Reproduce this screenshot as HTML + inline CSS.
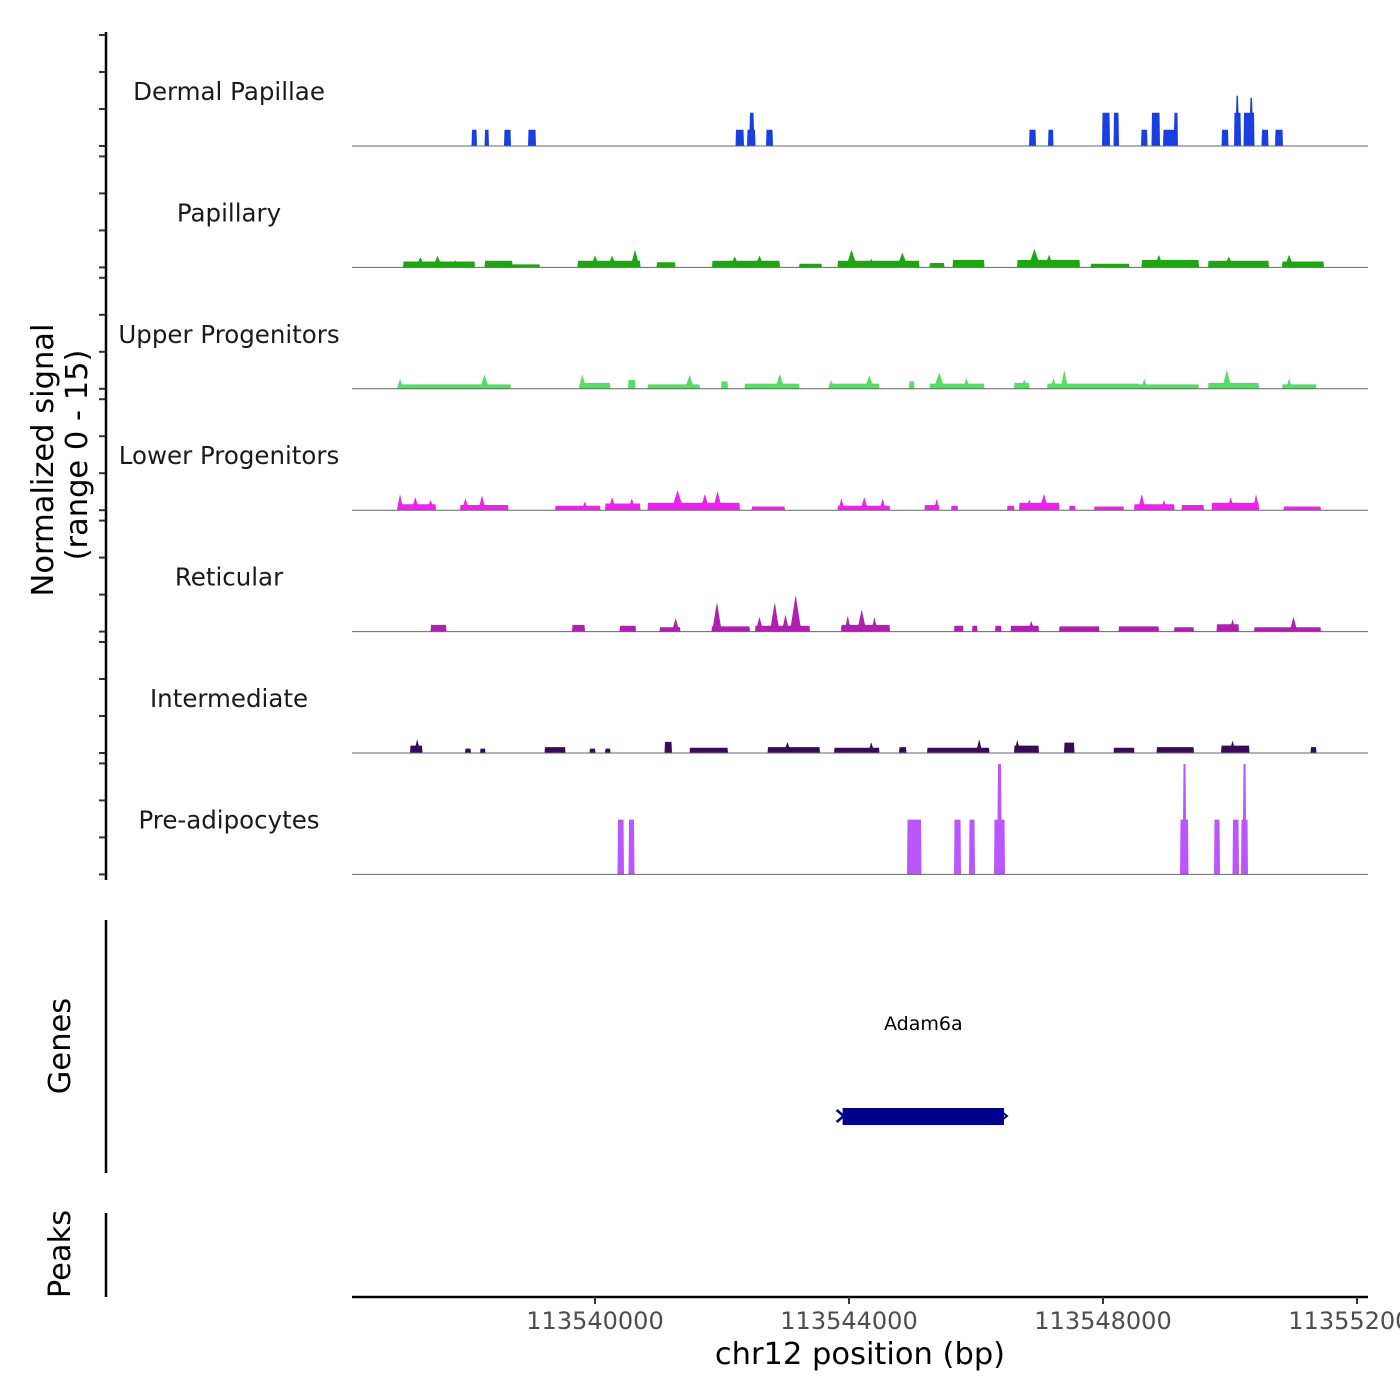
<!DOCTYPE html>
<html><head><meta charset="utf-8"><style>
html,body{margin:0;padding:0;background:#fff;width:1400px;height:1400px;overflow:hidden}
svg{display:block;font-family:"DejaVu Sans","Liberation Sans",sans-serif}
</style></head><body>
<svg id="chart" width="1400" height="1400" viewBox="0 0 1400 1400" xmlns="http://www.w3.org/2000/svg"></svg>
<script>
// ---- data (positions in kb, values in normalized signal units) ----
const trackNames = ["Dermal Papillae","Papillary","Upper Progenitors","Lower Progenitors","Reticular","Intermediate","Pre-adipocytes"];
const trackColors = ["#1a3fe0","#1aa80e","#55dd66","#ee22ee","#b01fb0","#3a0a5a","#bb55ff"];
const xTicks = [113540000,113544000,113548000,113552000];
const xTickLabels = ["113540000","113544000","113548000","113552000"];
const yRange = [0,15];
const geneName = "Adam6a";
const geneStart = 113543900;
const geneEnd = 113546440;

// flat regions [startKb, endKb, value]
const dpRegions = [[113538.06,113538.14,2.2],[113538.26,113538.33,2.2],[113538.57,113538.67,2.2],[113538.95,113539.07,2.2],
 [113542.22,113542.34,2.2],[113542.40,113542.52,2.2],[113542.44,113542.50,4.5],[113542.70,113542.80,2.2],
 [113546.84,113546.94,2.2],[113547.14,113547.22,2.2],[113547.99,113548.11,4.5],[113548.17,113548.25,4.5],
 [113548.60,113548.70,2.2],[113548.77,113548.89,4.5],[113548.95,113549.13,2.2],[113549.12,113549.18,4.5],
 [113549.87,113549.97,2.2],[113550.07,113550.17,4.5],[113550.10,113550.13,6.8],[113550.22,113550.38,4.5],
 [113550.32,113550.35,6.5],[113550.50,113550.60,2.2],[113550.71,113550.83,2.2]];
const dpPeaks = [];

const papRegions = [[113536.98,113538.11,0.8],[113538.26,113538.70,0.9],[113538.70,113539.13,0.4],[113539.73,113540.71,0.9],
 [113540.97,113541.26,0.7],[113541.85,113542.91,0.9],[113543.22,113543.57,0.5],[113543.82,113545.11,0.9],
 [113545.27,113545.50,0.6],[113545.63,113546.13,1.0],[113546.65,113547.63,1.0],[113547.81,113548.41,0.5],
 [113548.61,113549.51,1.0],[113549.66,113550.61,0.9],[113550.82,113551.48,0.8]];
const papPeaks = [[113537.25,0.15,1.4],[113537.52,0.15,1.6],[113537.80,0.12,1.0],[113540.00,0.15,1.6],[113540.27,0.15,1.6],
 [113540.63,0.15,2.4],[113542.20,0.15,1.5],[113542.59,0.15,1.6],[113544.04,0.18,2.4],[113544.35,0.12,1.2],
 [113544.84,0.18,2.0],[113546.92,0.2,2.5],[113547.15,0.15,1.7],[113548.88,0.15,1.7],[113549.98,0.15,1.5],[113550.93,0.15,1.7]];

const upRegions = [[113536.93,113538.67,0.6],[113539.76,113540.24,0.8],[113540.52,113540.63,1.2],[113540.83,113541.65,0.6],
 [113541.99,113542.09,1.0],[113542.36,113543.22,0.7],[113543.69,113544.48,0.7],[113544.95,113545.03,1.0],
 [113545.27,113546.13,0.7],[113546.60,113546.84,0.8],[113547.12,113548.56,0.7],[113548.56,113549.51,0.6],
 [113549.66,113550.45,0.8],[113550.82,113551.36,0.6]];
const upPeaks = [[113536.93,0.1,1.4],[113538.26,0.15,1.9],[113539.80,0.12,2.0],[113541.49,0.15,1.9],[113542.91,0.15,2.0],
 [113543.72,0.1,1.2],[113544.32,0.15,1.8],[113545.42,0.18,2.2],[113545.85,0.12,1.4],[113546.76,0.1,1.3],
 [113547.22,0.1,1.5],[113547.39,0.12,2.6],[113548.65,0.1,1.4],[113549.95,0.15,2.6],[113550.93,0.1,1.4]];

const lpRegions = [[113536.90,113537.49,0.8],[113537.88,113538.63,0.7],[113539.37,113540.08,0.6],[113540.16,113540.71,0.9],
 [113540.83,113542.28,1.0],[113542.47,113542.99,0.5],[113543.82,113544.64,0.6],[113545.19,113545.42,0.7],
 [113545.61,113545.71,0.6],[113546.49,113546.60,0.6],[113546.68,113547.31,1.0],[113547.47,113547.56,0.6],
 [113547.86,113548.33,0.5],[113548.49,113549.12,0.8],[113549.24,113549.59,0.7],[113549.71,113550.45,1.0],
 [113550.85,113551.43,0.5]];
const lpPeaks = [[113536.93,0.1,2.2],[113537.17,0.12,1.8],[113537.41,0.12,1.4],[113537.96,0.12,1.6],[113538.22,0.12,2.0],
 [113539.84,0.1,1.2],[113540.27,0.12,1.8],[113540.58,0.12,1.6],[113541.30,0.2,2.7],[113541.73,0.15,2.2],
 [113541.93,0.15,2.6],[113543.88,0.1,1.6],[113544.24,0.12,1.8],[113544.53,0.1,1.6],[113545.38,0.08,1.6],
 [113546.84,0.1,1.5],[113547.07,0.15,2.2],[113548.61,0.12,2.2],[113548.96,0.1,1.4],[113550.01,0.12,1.8],[113550.41,0.1,2.2]];

const retRegions = [[113537.41,113537.66,0.9],[113539.64,113539.84,0.9],[113540.39,113540.64,0.8],[113541.02,113541.34,0.6],
 [113541.84,113542.44,0.7],[113542.52,113543.38,0.8],[113543.88,113544.64,0.9],[113545.66,113545.80,0.8],
 [113545.94,113546.02,0.8],[113546.30,113546.40,0.8],[113546.55,113546.99,0.8],[113547.31,113547.94,0.7],
 [113548.25,113548.88,0.7],[113549.12,113549.43,0.6],[113549.79,113550.14,1.0],[113550.38,113551.43,0.6]];
const retPeaks = [[113541.27,0.12,1.8],[113541.92,0.15,4.0],[113542.59,0.12,2.0],[113542.83,0.15,4.0],[113543.00,0.12,2.3],
 [113543.16,0.18,5.0],[113543.98,0.1,2.2],[113544.20,0.15,3.0],[113544.40,0.1,2.0],[113546.87,0.1,1.5],
 [113550.04,0.1,1.7],[113551.00,0.12,2.0]];

const intRegions = [[113537.09,113537.28,1.0],[113537.96,113538.04,0.6],[113538.19,113538.27,0.6],[113539.21,113539.53,0.8],
 [113539.92,113540.00,0.6],[113540.16,113540.24,0.6],[113541.10,113541.21,1.5],[113541.49,113542.09,0.7],
 [113542.72,113543.54,0.8],[113543.77,113544.48,0.7],[113544.79,113544.90,0.8],[113545.23,113546.21,0.7],
 [113546.60,113546.99,1.0],[113547.39,113547.55,1.4],[113548.17,113548.49,0.7],[113548.85,113549.43,0.8],
 [113549.86,113550.30,1.0],[113551.27,113551.36,0.8]];
const intPeaks = [[113537.20,0.1,1.9],[113543.03,0.12,1.5],[113544.35,0.1,1.5],[113546.05,0.1,1.9],[113546.65,0.1,1.8],[113550.04,0.1,1.7]];

const preRegions = [[113540.36,113540.45,7.4],[113540.53,113540.62,7.4],[113544.92,113545.14,7.4],[113545.66,113545.76,7.4],
 [113545.89,113545.98,7.4],[113546.29,113546.45,7.4],[113546.34,113546.40,14.9],[113549.22,113549.34,7.4],
 [113549.26,113549.30,14.9],[113549.75,113549.84,7.4],[113550.04,113550.14,7.4],[113550.18,113550.28,7.4],[113550.21,113550.25,14.9]];
const prePeaks = [];

const allRegions = [dpRegions,papRegions,upRegions,lpRegions,retRegions,intRegions,preRegions];
const allPeaks = [dpPeaks,papPeaks,upPeaks,lpPeaks,retPeaks,intPeaks,prePeaks];

// ---- layout ----
const NS="http://www.w3.org/2000/svg";
const svg=document.getElementById('chart');
const X0=352,X1=1368,D0=113536173,D1=113552173;
const xScale=bp=>X0+(bp-D0)/(D1-D0)*(X1-X0);
const trackTop=i=>35+i*121.4;
const trackH=111;
const yScale=(i,v)=>trackTop(i)+trackH-(v-yRange[0])/(yRange[1]-yRange[0])*trackH;
function mk(tag,attrs,parent){const e=document.createElementNS(NS,tag);for(const k in attrs)e.setAttribute(k,attrs[k]);(parent||svg).appendChild(e);return e;}

function signalAt(i,kb){
  let v=0;
  for(const r of allRegions[i]) if(kb>=r[0]&&kb<=r[1]) v=Math.max(v,r[2]);
  for(const p of allPeaks[i]){const d=Math.abs(kb-p[0]);if(d<p[1]/2) v=Math.max(v,p[2]*(1-d/(p[1]/2)));}
  return v;
}

for(let i=0;i<trackNames.length;i++){
  const g=mk('g',{});
  
  
  let d='M'+X0+' '+yScale(i,0);
  for(let px=X0;px<=X1;px+=0.5){
    const kb=(D0+(px-X0)/(X1-X0)*(D1-D0))/1000;
    d+=' L'+px+' '+yScale(i,signalAt(i,kb)).toFixed(1);
  }
  d+=' L'+X1+' '+yScale(i,0)+' Z';
  const a=mk('path',{d:d,fill:trackColors[i],stroke:'none'},g);
  
  
  const bl=mk('line',{x1:X0,x2:X1,y1:yScale(i,0),y2:yScale(i,0),stroke:'#666',"stroke-width":1},g);
  
  
  const t=mk('text',{x:229,y:trackTop(i)+65,"text-anchor":"middle","font-size":24.5,fill:'#1a1a1a'},g);
  t.textContent=trackNames[i];
  
  
  for(const v of [15,10,5,0]){
    const tk=mk('line',{x1:99,x2:106,y1:yScale(i,v),y2:yScale(i,v),stroke:'#333',"stroke-width":2},g);
    
    
  }
}

// left axes
const ya=mk('line',{x1:106,x2:106,y1:32,y2:880,stroke:'#000',"stroke-width":2.5});


const ga=mk('line',{x1:106,x2:106,y1:920,y2:1173,stroke:'#000',"stroke-width":2.5});


const pa=mk('line',{x1:106,x2:106,y1:1213,y2:1297,stroke:'#000',"stroke-width":2.5});



function rotText(x,y,s,name,size){const t=mk('text',{x:x,y:y,"text-anchor":"middle","font-size":size,fill:'#000',transform:'rotate(-90 '+x+' '+y+')'});t.textContent=s;}
rotText(53,460,'Normalized signal','y-axis-title',30.5);
rotText(87,455,'(range 0 - 15)','y-axis-subtitle',30.5);
rotText(70,1046,'Genes','genes-axis-title',30.5);
rotText(70,1254,'Peaks','peaks-axis-title',30.5);

// gene
const gb=mk('rect',{x:xScale(geneStart),y:1108,width:xScale(geneEnd)-xScale(geneStart),height:17,fill:'#00008b'});


const gArrowL=mk('path',{d:'M'+(xScale(geneStart)-6)+' 1110 L'+(xScale(geneStart)+1)+' 1116 L'+(xScale(geneStart)-6)+' 1122',fill:'none',stroke:'#00008b',"stroke-width":2.5});


const gArrowR=mk('path',{d:'M'+(xScale(geneEnd)-2)+' 1112 L'+(xScale(geneEnd)+3)+' 1116 L'+(xScale(geneEnd)-2)+' 1120',fill:'none',stroke:'#00008b',"stroke-width":2});


const gl=mk('text',{x:(xScale(geneStart)+xScale(geneEnd))/2,y:1030,"text-anchor":"middle","font-size":19,fill:'#000'});
gl.textContent=geneName;



// x axis
const xa=mk('line',{x1:X0,x2:X1,y1:1297,y2:1297,stroke:'#000',"stroke-width":2.5});


xTicks.forEach((v,k)=>{
  const tk=mk('line',{x1:xScale(v),x2:xScale(v),y1:1297,y2:1304,stroke:'#333',"stroke-width":2});
  
  
  const tl=mk('text',{x:xScale(v),y:1329,"text-anchor":"middle","font-size":24,fill:'#4d4d4d'});
  tl.textContent=xTickLabels[k];
  
  
});
const xt=mk('text',{x:860,y:1364,"text-anchor":"middle","font-size":30.5,fill:'#000'});
xt.textContent='chr12 position (bp)';


</script>
</body></html>
